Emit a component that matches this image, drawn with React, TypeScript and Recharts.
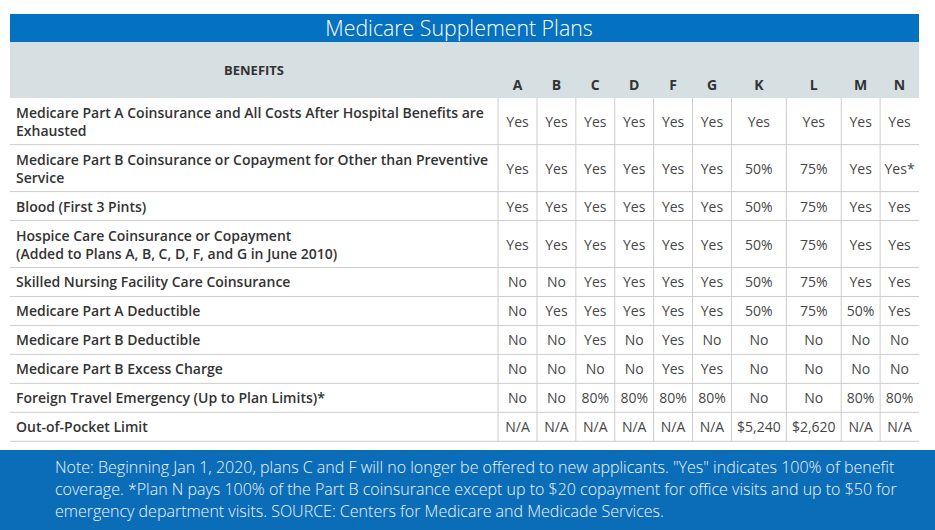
import { ComposedChart, Scatter, XAxis, YAxis, ReferenceLine } from "recharts";

const TITLE = "Medicare Supplement Plans";
const BENEFITS_HEADER = "BENEFITS";
const PLANS = ["A", "B", "C", "D", "F", "G", "K", "L", "M", "N"];

// "\n" marks where the label wraps in the original table
const BENEFITS = [
  "Medicare Part A Coinsurance and All Costs After Hospital Benefits are\nExhausted",
  "Medicare Part B Coinsurance or Copayment for Other than Preventive\nService",
  "Blood (First 3 Pints)",
  "Hospice Care Coinsurance or Copayment\n(Added to Plans A, B, C, D, F, and G in June 2010)",
  "Skilled Nursing Facility Care Coinsurance",
  "Medicare Part A Deductible",
  "Medicare Part B Deductible",
  "Medicare Part B Excess Charge",
  "Foreign Travel Emergency (Up to Plan Limits)*",
  "Out-of-Pocket Limit",
];

const PART_A_COINSURANCE = ["Yes", "Yes", "Yes", "Yes", "Yes", "Yes", "Yes", "Yes", "Yes", "Yes"];
const PART_B_COINSURANCE = ["Yes", "Yes", "Yes", "Yes", "Yes", "Yes", "50%", "75%", "Yes", "Yes*"];
const BLOOD = ["Yes", "Yes", "Yes", "Yes", "Yes", "Yes", "50%", "75%", "Yes", "Yes"];
const HOSPICE = ["Yes", "Yes", "Yes", "Yes", "Yes", "Yes", "50%", "75%", "Yes", "Yes"];
const SKILLED_NURSING = ["No", "No", "Yes", "Yes", "Yes", "Yes", "50%", "75%", "Yes", "Yes"];
const PART_A_DEDUCTIBLE = ["No", "Yes", "Yes", "Yes", "Yes", "Yes", "50%", "75%", "50%", "Yes"];
const PART_B_DEDUCTIBLE = ["No", "No", "Yes", "No", "Yes", "No", "No", "No", "No", "No"];
const PART_B_EXCESS = ["No", "No", "No", "No", "Yes", "Yes", "No", "No", "No", "No"];
const FOREIGN_TRAVEL = ["No", "No", "80%", "80%", "80%", "80%", "No", "No", "80%", "80%"];
const OUT_OF_POCKET = ["N/A", "N/A", "N/A", "N/A", "N/A", "N/A", "$5,240", "$2,620", "N/A", "N/A"];

const ROW_VALUES = [
  PART_A_COINSURANCE,
  PART_B_COINSURANCE,
  BLOOD,
  HOSPICE,
  SKILLED_NURSING,
  PART_A_DEDUCTIBLE,
  PART_B_DEDUCTIBLE,
  PART_B_EXCESS,
  FOREIGN_TRAVEL,
  OUT_OF_POCKET,
];

const NOTE_LINES = [
  'Note: Beginning Jan 1, 2020, plans C and F will no longer be offered to new applicants. "Yes" indicates 100% of benefit',
  "coverage. *Plan N pays 100% of the Part B coinsurance except up to $20 copayment for office visits and up to $50 for",
  "emergency department visits. SOURCE: Centers for Medicare and Medicade Services.",
];

// layout
const BENEFIT_COL_UNITS = 12.55;
const LINE_H = 18;
const ROW_PAD = 11;
const FONT = "'Open Sans', 'DejaVu Sans', sans-serif";
const GRID = "#cdcdcd";

// plan columns widen to fit long entries, like an auto-sized html table
const colUnits = PLANS.map((_, j) =>
  Math.max(1, Math.max(...ROW_VALUES.map((r) => r[j].length)) / 4.25)
);
const colEdges = colUnits.reduce<number[]>(
  (acc, u) => [...acc, acc[acc.length - 1] + u],
  [BENEFIT_COL_UNITS]
);
const X_MAX = colEdges[colEdges.length - 1];
const colCenters = colUnits.map((u, j) => colEdges[j] + u / 2);

const rowHeights = BENEFITS.map((b) => ROW_PAD + LINE_H * b.split("\n").length);
const rowEdges = rowHeights.reduce<number[]>((acc, h) => [...acc, acc[acc.length - 1] + h], [0]);
const Y_MAX = rowEdges[rowEdges.length - 1];
const rowCenters = rowHeights.map((h, i) => rowEdges[i] + h / 2);

const cells = ROW_VALUES.flatMap((vals, i) =>
  vals.map((v, j) => ({ x: colCenters[j], y: rowCenters[i], text: v }))
);
const labels = BENEFITS.map((b, i) => ({ x: 0, y: rowCenters[i], text: b }));

const CellShape = (p: any) => (
  <text
    x={p.cx}
    y={p.cy}
    textAnchor="middle"
    dominantBaseline="central"
    fontFamily={FONT}
    fontSize={14}
    fill="#474747"
  >
    {p.payload.text}
  </text>
);

const LabelShape = (p: any) => {
  const lines: string[] = p.payload.text.split("\n");
  return (
    <text fontFamily={FONT} fontSize={14} fontWeight={600} fill="#333">
      {lines.map((l, k) => (
        <tspan
          key={k}
          x={p.cx + 6}
          y={p.cy + (k - (lines.length - 1) / 2) * LINE_H}
          dominantBaseline="central"
        >
          {l}
        </tspan>
      ))}
    </text>
  );
};

const HeaderTick = (p: any) => {
  const idx = p.index;
  const first = idx === 0;
  return (
    <text
      x={p.x}
      y={first ? 70 : 84}
      textAnchor="middle"
      dominantBaseline="central"
      fontFamily={FONT}
      fontSize={first ? 13 : 14}
      fontWeight={700}
      fill="#333"
    >
      {first ? BENEFITS_HEADER : PLANS[idx - 1]}
    </text>
  );
};

export default function App() {
  return (
    <div style={{ position: "absolute", left: 0, top: 0, width: 935, height: 530, background: "#fff" }}>
      {/* title bar */}
      <div style={{ position: "absolute", left: 10, top: 14, width: 909, height: 28, background: "#0571c1" }} />
      <div
        style={{
          position: "absolute",
          left: 0,
          top: 14,
          width: 918,
          height: 28,
          lineHeight: "28px",
          textAlign: "center",
          color: "#fff",
          fontFamily: FONT,
          fontWeight: 300,
          fontSize: 21.3,
        }}
      >
        {TITLE}
      </div>
      {/* header band */}
      <div style={{ position: "absolute", left: 10, top: 42, width: 909, height: 55.7, background: "#d6dfe2" }} />
      {/* footer */}
      <div style={{ position: "absolute", left: 0, top: 450, width: 935, height: 80, background: "#0b6db8" }} />
      <div
        style={{
          position: "absolute",
          left: 55,
          top: 456,
          color: "#eef4fa",
          fontFamily: FONT,
          fontWeight: 300,
          fontSize: 16,
          lineHeight: "22px",
          whiteSpace: "nowrap",
        }}
      >
        {NOTE_LINES.map((l, i) => (
          <div key={i}>{l}</div>
        ))}
      </div>

      <div style={{ position: "absolute", left: 0, top: 0 }}>
        <ComposedChart
          width={935}
          height={530}
          margin={{ top: 42, right: 16, bottom: 88.7, left: 10 }}
        >
          <XAxis
            type="number"
            dataKey="x"
            orientation="top"
            height={55.7}
            domain={[0, X_MAX]}
            ticks={[BENEFIT_COL_UNITS / 2, ...colCenters]}
            interval={0}
            tick={<HeaderTick />}
            axisLine={false}
            tickLine={false}
            allowDataOverflow
          />
          <YAxis type="number" dataKey="y" domain={[0, Y_MAX]} reversed hide allowDataOverflow />
          {rowEdges.slice(1).map((y, i) => (
            <ReferenceLine key={"h" + i} y={y} stroke={GRID} strokeWidth={1} />
          ))}
          {colEdges.slice(0, -1).map((x, i) => (
            <ReferenceLine key={"v" + i} x={x} stroke={GRID} strokeWidth={1} />
          ))}
          <Scatter data={labels} shape={<LabelShape />} isAnimationActive={false} />
          <Scatter data={cells} shape={<CellShape />} isAnimationActive={false} />
        </ComposedChart>
      </div>
    </div>
  );
}
